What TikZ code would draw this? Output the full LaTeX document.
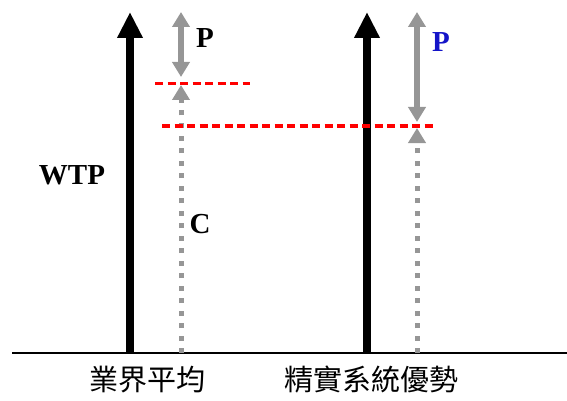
\documentclass[tikz,border=0pt]{standalone}
\usepackage{fontspec}
\setmainfont{Liberation Serif}
\newfontfamily\cjk{Noto Sans CJK TC}
\usepackage{tikz}
\usetikzlibrary{arrows.meta, positioning}
\definecolor{PriceGray}{RGB}{150,150,150}
\definecolor{PriceBlue}{RGB}{20,20,200}

\begin{document}
\begin{tikzpicture}[x=1pt,y=-1pt,
        lbl/.style={font=\fontsize{29}{31}\selectfont\bfseries,inner sep=0pt},
        cjklbl/.style={font=\cjk\fontsize{29}{31}\selectfont,inner sep=0pt},
        warr/.style={-{Triangle[width=24pt,length=26pt]},line width=8pt,black},
        garr/.style={{Triangle[width=17pt,length=15pt]}-{Triangle[width=17pt,length=15pt]},
                     line width=6pt,PriceGray},
        gdot/.style={-{Triangle[width=17pt,length=15pt]},line width=5pt,PriceGray,
                     dash pattern=on 5pt off 7.5pt},
        rdash/.style={line width=3pt,red,dash pattern=on 8pt off 4.5pt}
      ]
        \useasboundingbox (0,0) rectangle (567,401);
        % axis
        \coordinate (axl) at (12,353);
        \coordinate (axr) at (567,353);
        \draw[line width=2pt] (axl)--(axr);
        % industry average
        \coordinate (a0) at (130,353); \coordinate (a1) at (130,12);
        \coordinate (c0) at (181,353); \coordinate (c1) at (181,85);
        \coordinate (p0) at (181,12);  \coordinate (p1) at (181,77);
        \draw[warr] (a0)--(a1);
        \draw[gdot] (c0)--(c1);
        \draw[garr] (p0)--(p1);
        % lean system advantage
        \coordinate (b0) at (367,353); \coordinate (b1) at (367,12);
        \coordinate (d0) at (417,353); \coordinate (d1) at (417,128);
        \coordinate (q0) at (417,12);  \coordinate (q1) at (417,122);
        \draw[warr] (b0)--(b1);
        \draw[gdot] (d0)--(d1);
        \draw[garr] (q0)--(q1);
        % cost levels
        \coordinate (r1a) at (155,83.5); \coordinate (r1b) at (250,83.5);
        \coordinate (r2a) at (162,126); \coordinate (r2b) at (434,126);
        \draw[rdash] (r1a)--(r1b);
        \draw[rdash] (r2a)--(r2b);
        % labels
        \node[lbl] (wtp) at (72,175) {WTP};
        \node[lbl] (cost) at (200,224) {C};
        \node[lbl] (pavg) at (205,38) {P};
        \node[lbl,text=PriceBlue] (plean) at (441,42) {P};
        \node[cjklbl] (avg) at (147,380) {業界平均};
        \node[cjklbl] (lean) at (371,380) {精實系統優勢};
      \end{tikzpicture}
\end{document}
